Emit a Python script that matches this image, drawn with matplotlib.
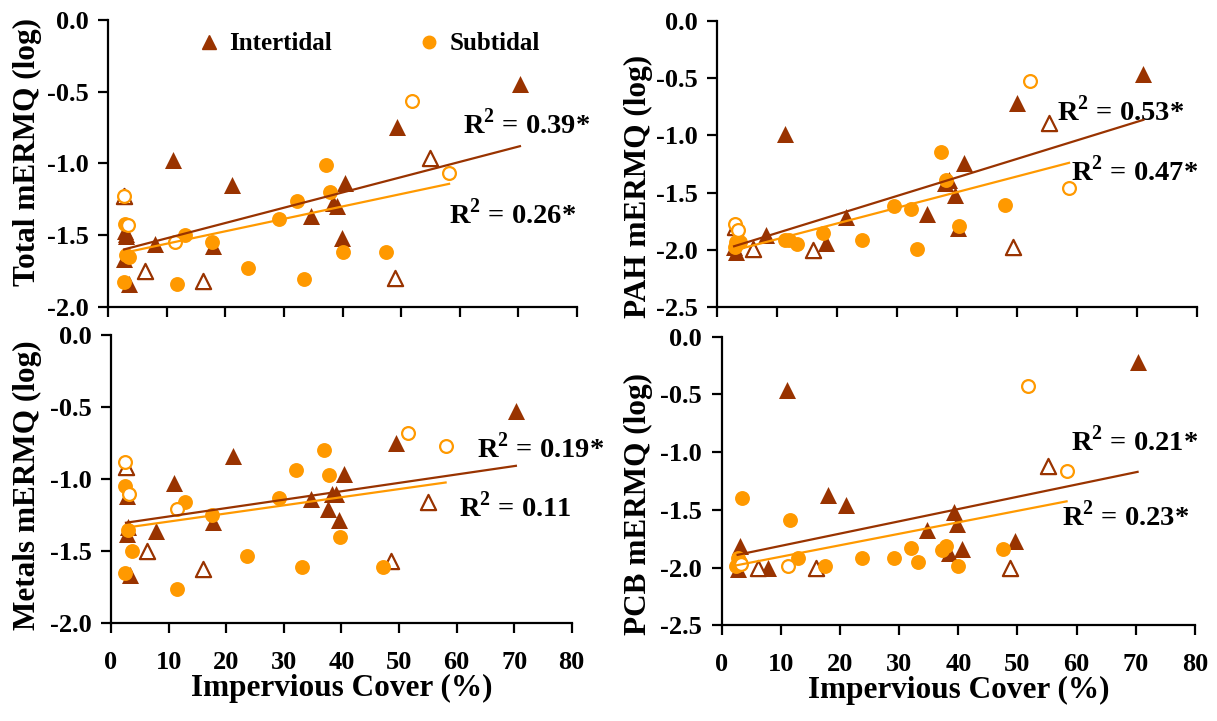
import matplotlib
matplotlib.use("Agg")
import matplotlib.pyplot as plt
import numpy as np
from matplotlib.lines import Line2D

# ---- data ----
# Total mERMQ
total_int_x = [2.7, 2.8, 3.0, 3.1, 3.5, 8.0, 11.1, 17.8, 21.2, 34.6, 38.4, 39.1, 39.9, 40.5, 49.3, 70.3]
total_int_y = [-1.67, -1.47, -1.51, -1.49, -1.84, -1.56, -0.98, -1.58, -1.15, -1.37, -1.28, -1.30, -1.52, -1.14, -0.75, -0.45]
total_int_open_x = [2.7, 6.3, 16.1, 49.0, 54.9]
total_int_open_y = [-1.23, -1.75, -1.82, -1.80, -0.965]
total_sub_x = [2.9, 3.0, 3.6, 2.6, 13.1, 11.7, 17.7, 23.9, 29.2, 32.3, 33.4, 37.2, 37.9, 40.1, 47.4]
total_sub_y = [-1.42, -1.64, -1.65, -1.83, -1.50, -1.84, -1.55, -1.73, -1.39, -1.26, -1.81, -1.01, -1.20, -1.62, -1.62]
total_sub_open_x = [2.6, 3.4, 11.4, 51.9, 58.2]
total_sub_open_y = [-1.23, -1.43, -1.55, -0.565, -1.07]

# PAH mERMQ
pah_int_x = [3.1, 2.8, 8.2, 11.3, 18.1, 21.5, 35.0, 38.0, 38.7, 39.7, 40.1, 41.1, 50.0, 71.1]
pah_int_y = [-2.02, -1.97, -1.87, -0.99, -1.94, -1.71, -1.69, -1.42, -1.39, -1.52, -1.81, -1.245, -0.716, -0.466]
pah_int_open_x = [3.0, 6.0, 16.0, 49.3, 55.4]
pah_int_open_y = [-1.80, -1.99, -2.0, -1.97, -0.896]
pah_sub_x = [3.2, 2.9, 3.8, 11.3, 12.0, 13.3, 17.6, 24.1, 29.5, 32.3, 33.4, 37.4, 38.1, 40.4, 48.0]
pah_sub_y = [-1.93, -1.97, -1.93, -1.91, -1.91, -1.95, -1.855, -1.91, -1.62, -1.64, -1.99, -1.15, -1.39, -1.79, -1.61]
pah_sub_open_x = [2.9, 3.4, 52.2, 58.7]
pah_sub_open_y = [-1.77, -1.83, -0.524, -1.46]

# Metals mERMQ
metals_int_x = [2.7, 3.0, 2.7, 3.3, 7.9, 11.0, 17.7, 21.1, 34.7, 37.6, 38.4, 39.1, 39.6, 40.4, 49.4, 70.3]
metals_int_y = [-1.12, -1.33, -1.38, -1.665, -1.36, -1.03, -1.30, -0.84, -1.14, -1.21, -1.10, -1.10, -1.28, -0.965, -0.752, -0.53]
metals_int_open_x = [2.6, 6.2, 15.9, 48.7, 55.0]
metals_int_open_y = [-0.914, -1.50, -1.62, -1.57, -1.157]
metals_sub_x = [2.4, 3.0, 3.6, 2.4, 12.8, 11.4, 17.5, 23.6, 29.2, 32.1, 33.1, 37.0, 37.8, 39.8, 47.3]
metals_sub_y = [-1.046, -1.35, -1.50, -1.65, -1.157, -1.76, -1.25, -1.53, -1.13, -0.94, -1.61, -0.80, -0.97, -1.40, -1.61]
metals_sub_open_x = [2.4, 3.2, 11.4, 51.6, 58.1]
metals_sub_open_y = [-0.88, -1.10, -1.21, -0.68, -0.77]

# PCB mERMQ
pcb_int_x = [3.1, 2.7, 7.9, 11.1, 17.9, 21.0, 34.7, 38.5, 39.2, 39.8, 40.6, 49.6, 70.3]
pcb_int_y = [-1.81, -2.01, -2.0, -0.461, -1.37, -1.46, -1.67, -1.87, -1.52, -1.625, -1.84, -1.767, -0.221]
pcb_int_open_x = [2.7, 6.2, 15.9, 48.8, 55.1]
pcb_int_open_y = [-1.93, -2.0, -2.0, -2.0, -1.12]
pcb_sub_x = [3.5, 2.8, 3.1, 2.5, 11.5, 12.9, 17.5, 23.7, 29.2, 32.0, 33.1, 37.2, 37.9, 40.0, 47.6]
pcb_sub_y = [-1.394, -1.92, -1.95, -1.99, -1.59, -1.92, -1.99, -1.92, -1.92, -1.833, -1.954, -1.85, -1.81, -1.99, -1.84]
pcb_sub_open_x = [3.2, 11.2, 51.7, 58.3]
pcb_sub_open_y = [-1.97, -1.99, -0.426, -1.163]

# trend lines (slope, intercept) and R2 labels
total_fit = [(0.01065, -1.629), (0.00866, -1.647)]
pah_fit = [(0.01614, -2.013), (0.01366, -2.042)]
metals_fit = [(0.00583, -1.3175), (0.00564, -1.351)]
pcb_fit = [(0.01063, -1.918), (0.00993, -2.005)]

total_r2 = ["0.39*", "0.26*"]
pah_r2 = ["0.53*", "0.47*"]
metals_r2 = ["0.19*", "0.11"]
pcb_r2 = ["0.21*", "0.23*"]

INT_COLOR = "#993300"
SUB_COLOR = "#FF9900"

plt.rcParams["font.family"] = "Liberation Serif"
plt.rcParams["font.weight"] = "bold"
plt.rcParams["axes.unicode_minus"] = False
plt.rcParams["mathtext.fontset"] = "custom"
plt.rcParams["mathtext.rm"] = "Liberation Serif:bold"
plt.rcParams["mathtext.bf"] = "Liberation Serif:bold"


def draw_panel(ax, pts, fit, r2, r2_pos, ylim, ylabel, label_pos, show_x):
    (ix, iy), (iox, ioy), (sx, sy), (sox, soy) = pts
    ax.scatter(ix, iy, marker="^", s=150, color=INT_COLOR, zorder=3, linewidths=0)
    ax.scatter(iox, ioy, marker="^", s=120, facecolors="white", edgecolors=INT_COLOR,
               linewidths=1.6, zorder=3)
    ax.scatter(sx, sy, marker="o", s=115, color=SUB_COLOR, zorder=4, linewidths=0)
    ax.scatter(sox, soy, marker="o", s=85, facecolors="white", edgecolors=SUB_COLOR,
               linewidths=1.6, zorder=4)

    all_ix = ix + iox
    all_sx = sx + sox
    xi = np.array([min(all_ix), max(all_ix)])
    xs = np.array([min(all_sx), max(all_sx)])
    ax.plot(xi, fit[0][0] * xi + fit[0][1], color=INT_COLOR, lw=1.6, zorder=5)
    ax.plot(xs, fit[1][0] * xs + fit[1][1], color=SUB_COLOR, lw=1.6, zorder=5)

    for txt, (tx, ty) in zip(r2, r2_pos):
        ax.text(tx, ty, r"R$^{2}$ = " + txt, fontsize=20.5, fontweight="bold",
                ha="left", va="center")

    ax.set_xlim(0, 80)
    ax.set_ylim(*ylim)
    ax.set_xticks(np.arange(0, 81, 10))
    ax.set_yticks(np.arange(ylim[0], ylim[1] + 0.01, 0.5))
    ax.yaxis.set_major_formatter(matplotlib.ticker.FormatStrFormatter("%.1f"))
    for s in ["top", "right"]:
        ax.spines[s].set_visible(False)
    for s in ["left", "bottom"]:
        ax.spines[s].set_linewidth(1.6)
    ax.tick_params(direction="out", length=7, width=1.6, labelsize=19)
    ax.tick_params(axis="y", pad=7)
    ax.tick_params(axis="x", pad=13, labelbottom=show_x)
    ax.set_ylabel(ylabel, fontsize=22.5, fontweight="bold")
    ax.yaxis.set_label_coords(*label_pos)
    if show_x:
        ax.set_xlabel("Impervious Cover (%)", fontsize=22.5, fontweight="bold", labelpad=0)
    ax.patch.set_alpha(0)


fig = plt.figure(figsize=(12.17, 7.21), dpi=100)

ax1 = fig.add_axes([0.0890, 0.5746, 0.3849, 0.3977])
ax2 = fig.add_axes([0.5894, 0.5738, 0.3939, 0.3976])
ax3 = fig.add_axes([0.0912, 0.1355, 0.3786, 0.3999])
ax4 = fig.add_axes([0.5930, 0.1327, 0.3889, 0.4003])

draw_panel(ax1,
           [(total_int_x, total_int_y), (total_int_open_x, total_int_open_y),
            (total_sub_x, total_sub_y), (total_sub_open_x, total_sub_open_y)],
           total_fit, total_r2, [(60.6, -0.725), (58.2, -1.353)],
           (-2.0, 0.0), "Total mERMQ (log)", (-0.142, 0.54), False)
draw_panel(ax2,
           [(pah_int_x, pah_int_y), (pah_int_open_x, pah_int_open_y),
            (pah_sub_x, pah_sub_y), (pah_sub_open_x, pah_sub_open_y)],
           pah_fit, pah_r2, [(56.7, -0.789), (59.0, -1.312)],
           (-2.5, 0.0), "PAH mERMQ (log)", (-0.134, 0.42), False)
draw_panel(ax3,
           [(metals_int_x, metals_int_y), (metals_int_open_x, metals_int_open_y),
            (metals_sub_x, metals_sub_y), (metals_sub_open_x, metals_sub_open_y)],
           metals_fit, metals_r2, [(63.6, -0.784), (60.4, -1.193)],
           (-2.0, 0.0), "Metals mERMQ (log)", (-0.150, 0.48), True)
draw_panel(ax4,
           [(pcb_int_x, pcb_int_y), (pcb_int_open_x, pcb_int_open_y),
            (pcb_sub_x, pcb_sub_y), (pcb_sub_open_x, pcb_sub_open_y)],
           pcb_fit, pcb_r2, [(59.0, -0.903), (57.5, -1.553)],
           (-2.5, 0.0), "PCB mERMQ (log)", (-0.145, 0.42), True)

handles = [Line2D([], [], marker="^", ls="none", color=INT_COLOR, ms=10),
           Line2D([], [], marker="o", ls="none", color=SUB_COLOR, ms=9)]
ax1.legend(handles, ["Intertidal", "Subtidal"], loc="upper left",
           bbox_to_anchor=(0.14, 1.035), ncol=2, frameon=False,
           columnspacing=3.4, handletextpad=0.3, handlelength=1.0,
           prop={"weight": "bold", "size": 18})

fig.savefig("out.png", dpi=100)
